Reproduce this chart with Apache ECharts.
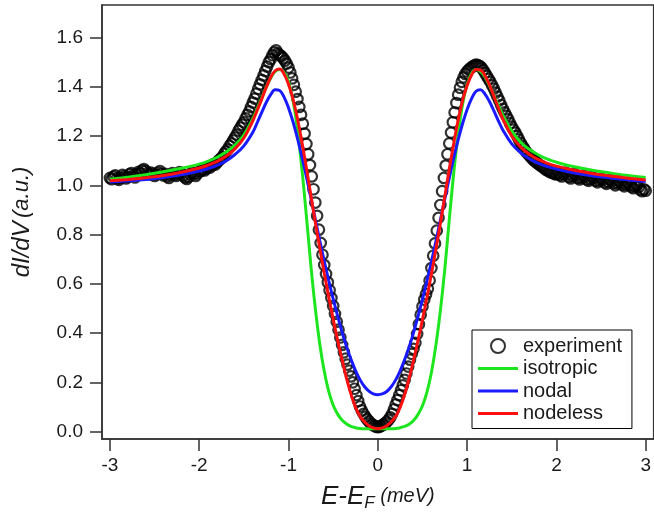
<!DOCTYPE html>
<html>
<head>
<meta charset="utf-8">
<script src="https://cdn.jsdelivr.net/npm/echarts@6.0.0/dist/echarts.min.js"></script>
<style>
html,body{margin:0;padding:0;background:#fff;}
#chart{width:654px;height:517px;}
</style>
</head>
<body>
<div id="chart"></div>
<script>
// ---- data ----
const xTicks = [-3, -2, -1, 0, 1, 2, 3];
const yTicks = [0, 0.2, 0.4, 0.6, 0.8, 1.0, 1.2, 1.4, 1.6];
const seriesNames = ['experiment', 'isotropic', 'nodal', 'nodeless'];

const expE = [
-3,-2.98,-2.96,-2.94,-2.92,-2.9,-2.88,-2.86,-2.84,-2.82,
-2.8,-2.78,-2.76,-2.74,-2.72,-2.7,-2.68,-2.66,-2.64,-2.62,
-2.6,-2.58,-2.56,-2.54,-2.52,-2.5,-2.48,-2.46,-2.44,-2.42,
-2.4,-2.38,-2.36,-2.34,-2.32,-2.3,-2.28,-2.26,-2.24,-2.22,
-2.2,-2.18,-2.16,-2.14,-2.12,-2.1,-2.08,-2.06,-2.04,-2.02,
-2,-1.98,-1.96,-1.94,-1.92,-1.9,-1.88,-1.86,-1.84,-1.82,
-1.8,-1.78,-1.76,-1.74,-1.72,-1.7,-1.68,-1.66,-1.64,-1.62,
-1.6,-1.58,-1.56,-1.54,-1.52,-1.5,-1.48,-1.46,-1.44,-1.42,
-1.4,-1.38,-1.36,-1.34,-1.32,-1.3,-1.28,-1.26,-1.24,-1.22,
-1.2,-1.18,-1.16,-1.14,-1.12,-1.1,-1.08,-1.06,-1.04,-1.02,
-1,-0.98,-0.96,-0.94,-0.92,-0.9,-0.88,-0.86,-0.84,-0.82,
-0.8,-0.78,-0.76,-0.74,-0.72,-0.7,-0.68,-0.66,-0.64,-0.62,
-0.6,-0.58,-0.56,-0.54,-0.52,-0.5,-0.48,-0.46,-0.44,-0.42,
-0.4,-0.38,-0.36,-0.34,-0.32,-0.3,-0.28,-0.26,-0.24,-0.22,
-0.2,-0.18,-0.16,-0.14,-0.12,-0.1,-0.08,-0.06,-0.04,-0.02,
0,0.02,0.04,0.06,0.08,0.1,0.12,0.14,0.16,0.18,
0.2,0.22,0.24,0.26,0.28,0.3,0.32,0.34,0.36,0.38,
0.4,0.42,0.44,0.46,0.48,0.5,0.52,0.54,0.56,0.58,
0.6,0.62,0.64,0.66,0.68,0.7,0.72,0.74,0.76,0.78,
0.8,0.82,0.84,0.86,0.88,0.9,0.92,0.94,0.96,0.98,
1,1.02,1.04,1.06,1.08,1.1,1.12,1.14,1.16,1.18,
1.2,1.22,1.24,1.26,1.28,1.3,1.32,1.34,1.36,1.38,
1.4,1.42,1.44,1.46,1.48,1.5,1.52,1.54,1.56,1.58,
1.6,1.62,1.64,1.66,1.68,1.7,1.72,1.74,1.76,1.78,
1.8,1.82,1.84,1.86,1.88,1.9,1.92,1.94,1.96,1.98,
2,2.02,2.04,2.06,2.08,2.1,2.12,2.14,2.16,2.18,
2.2,2.22,2.24,2.26,2.28,2.3,2.32,2.34,2.36,2.38,
2.4,2.42,2.44,2.46,2.48,2.5,2.52,2.54,2.56,2.58,
2.6,2.62,2.64,2.66,2.68,2.7,2.72,2.74,2.76,2.78,
2.8,2.82,2.84,2.86,2.88,2.9,2.92,2.94,2.96,2.98,
3
];
const expDIdV = [
1.030,1.025,1.035,1.040,1.028,1.022,1.030,1.042,1.036,1.028,
1.034,1.045,1.050,1.040,1.032,1.045,1.055,1.048,1.060,1.066,
1.058,1.050,1.044,1.052,1.046,1.038,1.044,1.052,1.058,1.048,
1.040,1.046,1.036,1.030,1.042,1.050,1.044,1.038,1.046,1.054,
1.048,1.040,1.032,1.026,1.034,1.044,1.052,1.046,1.038,1.048,
1.056,1.058,1.064,1.060,1.068,1.074,1.072,1.080,1.086,1.084,
1.094,1.102,1.108,1.116,1.128,1.138,1.146,1.160,1.170,1.182,
1.194,1.206,1.222,1.234,1.246,1.256,1.272,1.286,1.300,1.318,
1.336,1.352,1.372,1.392,1.410,1.428,1.446,1.464,1.482,1.500,
1.512,1.528,1.540,1.548,1.536,1.530,1.524,1.516,1.506,1.494,
1.478,1.458,1.434,1.408,1.380,1.350,1.318,1.286,1.250,1.210,
1.168,1.126,1.082,1.036,0.984,0.930,0.876,0.820,0.766,0.718,
0.676,0.640,0.606,0.574,0.542,0.510,0.478,0.446,0.414,0.382,
0.352,0.322,0.296,0.272,0.248,0.224,0.200,0.174,0.148,0.124,
0.102,0.086,0.072,0.060,0.050,0.042,0.034,0.028,0.024,0.020,
0.018,0.020,0.024,0.028,0.034,0.040,0.048,0.058,0.072,0.090,
0.110,0.128,0.148,0.168,0.188,0.210,0.236,0.264,0.292,0.316,
0.336,0.360,0.396,0.436,0.474,0.508,0.536,0.558,0.580,0.614,
0.664,0.714,0.764,0.816,0.868,0.920,0.976,1.030,1.080,1.126,
1.170,1.214,1.256,1.296,1.334,1.368,1.396,1.420,1.438,1.452,
1.462,1.470,1.476,1.482,1.486,1.490,1.488,1.484,1.478,1.468,
1.456,1.444,1.432,1.420,1.406,1.392,1.376,1.360,1.344,1.326,
1.310,1.296,1.282,1.268,1.252,1.238,1.226,1.214,1.200,1.186,
1.172,1.160,1.148,1.136,1.128,1.120,1.112,1.104,1.098,1.092,
1.086,1.080,1.076,1.070,1.064,1.060,1.056,1.052,1.050,1.046,
1.044,1.050,1.042,1.036,1.046,1.052,1.044,1.034,1.028,1.038,
1.046,1.040,1.030,1.024,1.032,1.040,1.034,1.024,1.018,1.026,
1.034,1.028,1.018,1.012,1.020,1.028,1.022,1.012,1.006,1.014,
1.022,1.016,1.008,1.000,1.008,1.016,1.010,1.002,0.996,1.004,
1.010,1.002,0.994,0.988,0.996,1.002,0.992,0.982,0.976,0.984,
0.978
];

const fitE = [
-3,-2.8,-2.6,-2.4,-2.2,-2,-1.9,-1.8,-1.7,-1.6,
-1.5,-1.4,-1.35,-1.3,-1.25,-1.2,-1.15,-1.1,-1.05,-1,
-0.95,-0.9,-0.85,-0.8,-0.75,-0.7,-0.65,-0.6,-0.55,-0.5,
-0.45,-0.4,-0.35,-0.3,-0.25,-0.2,-0.15,-0.1,-0.05,
0,
0.05,0.1,0.15,0.2,0.25,0.3,0.35,0.4,0.45,0.5,
0.55,0.6,0.65,0.7,0.75,0.8,0.85,0.9,0.95,
1,1.05,1.1,1.15,1.2,1.25,1.3,1.35,1.4,
1.5,1.6,1.7,1.8,1.9,2,2.2,2.4,2.6,2.8,3
];
const isotropicY = [
1.025,1.033,1.043,1.055,1.069,1.086,1.098,1.114,1.135,1.163,
1.205,1.270,1.312,1.355,1.398,1.435,1.462,1.470,1.458,1.420,
1.345,1.225,1.065,0.875,0.675,0.500,0.355,0.245,0.163,0.107,
0.071,0.046,0.031,0.021,0.016,0.013,0.012,0.012,0.012,
0.012,
0.012,0.012,0.012,0.013,0.016,0.021,0.030,0.045,0.070,0.105,
0.160,0.240,0.350,0.490,0.660,0.860,1.050,1.210,1.330,
1.410,1.455,1.470,1.462,1.440,1.405,1.365,1.325,1.285,
1.220,1.175,1.145,1.123,1.106,1.094,1.075,1.061,1.050,1.040,1.032
];
const nodalY = [
1.013,1.018,1.024,1.032,1.043,1.058,1.068,1.081,1.099,1.125,
1.160,1.215,1.255,1.296,1.336,1.368,1.388,1.385,1.358,1.314,
1.258,1.190,1.115,1.035,0.950,0.862,0.775,0.692,0.613,0.539,
0.469,0.403,0.344,0.293,0.248,0.211,0.183,0.164,0.153,
0.150,
0.153,0.163,0.182,0.210,0.247,0.292,0.343,0.402,0.468,0.538,
0.612,0.690,0.772,0.858,0.945,1.030,1.110,1.185,1.252,
1.308,1.352,1.382,1.388,1.370,1.340,1.302,1.262,1.225,
1.168,1.132,1.107,1.089,1.076,1.066,1.050,1.039,1.030,1.022,1.015
];
const nodelessY = [
1.018,1.024,1.031,1.040,1.053,1.070,1.082,1.097,1.118,1.148,
1.192,1.262,1.305,1.350,1.397,1.438,1.465,1.472,1.452,1.410,
1.350,1.270,1.175,1.070,0.960,0.850,0.745,0.643,0.547,0.457,
0.371,0.291,0.216,0.151,0.099,0.063,0.040,0.024,0.015,
0.012,
0.015,0.024,0.040,0.062,0.098,0.150,0.215,0.290,0.370,0.455,
0.545,0.640,0.740,0.845,0.955,1.065,1.170,1.265,1.345,
1.405,1.448,1.470,1.468,1.445,1.408,1.362,1.315,1.270,
1.200,1.155,1.125,1.104,1.089,1.078,1.061,1.048,1.038,1.029,1.022
];

// ---- chart ----
const pairs = (xs, ys) => xs.map((x, i) => [x, ys[i]]);
const FONT = '"Liberation Sans", Arial, sans-serif';
const TXT = '#1a1a1a';
const AX = '#333';
const LINE_ICON = 'path://M0,0H40V3H0Z';

const chart = echarts.init(document.getElementById('chart'), null, {renderer: 'canvas'});

const lineSeries = (name, ys, color) => ({
  name, type: 'line', data: pairs(fitE, ys), smooth: 0.4,
  symbol: 'none', showSymbol: false,
  lineStyle: {color, width: 3}, itemStyle: {color},
  emphasis: {disabled: true}, silent: true, z: 3
});

chart.setOption({
  animation: false,
  backgroundColor: '#fff',
  textStyle: {fontFamily: FONT},
  grid: {left: 102, top: 5, width: 556, height: 436, show: true,
         borderColor: AX, borderWidth: 1.5, backgroundColor: 'transparent'},
  xAxis: {
    type: 'value', min: -3.089, max: 3.089,
    axisLine: {show: true, onZero: false, lineStyle: {color: AX, width: 1.5}},
    axisTick: {show: true, inside: false, length: 12, customValues: xTicks,
               lineStyle: {color: AX, width: 1.5}},
    axisLabel: {customValues: xTicks, margin: 17, fontSize: 19, color: TXT,
                fontFamily: FONT, formatter: v => String(v)},
    splitLine: {show: false},
    name: '{e|E-E}{s|F}{m| (meV)}',
    nameLocation: 'middle', nameGap: 42,
    nameTextStyle: {
      rich: {
        e: {fontSize: 26, fontStyle: 'italic', color: TXT, fontFamily: FONT},
        s: {fontSize: 17, fontStyle: 'italic', color: TXT, fontFamily: FONT, padding: [14, 0, 0, 0]},
        m: {fontSize: 20, fontStyle: 'italic', color: TXT, fontFamily: FONT}
      }
    }
  },
  yAxis: {
    type: 'value', min: -0.03, max: 1.732,
    axisLine: {show: true, onZero: false, lineStyle: {color: AX, width: 1.5}},
    axisTick: {show: true, inside: false, length: 12, customValues: yTicks,
               lineStyle: {color: AX, width: 1.5}},
    axisLabel: {customValues: yTicks, margin: 19, fontSize: 19, color: TXT,
                fontFamily: FONT, formatter: v => Number(v).toFixed(1)},
    splitLine: {show: false},
    name: '{a|dI/dV} {b|(a.u.)}',
    nameLocation: 'middle', nameGap: 68,
    nameTextStyle: {
      rich: {
        a: {fontSize: 24, fontStyle: 'italic', color: TXT, fontFamily: FONT},
        b: {fontSize: 22, fontStyle: 'italic', color: TXT, fontFamily: FONT}
      }
    }
  },
  legend: {
    data: [
      {name: 'experiment'},
      {name: 'isotropic', icon: LINE_ICON},
      {name: 'nodal', icon: LINE_ICON},
      {name: 'nodeless', icon: LINE_ICON}
    ],
    orient: 'vertical', left: 472, top: 330,
    backgroundColor: '#fff', borderColor: '#000', borderWidth: 1,
    padding: [6, 10, 5, 6], itemGap: 2.5, itemWidth: 40, itemHeight: 14,
    selectedMode: false,
    textStyle: {fontSize: 20, color: TXT, fontFamily: FONT}
  },
  series: [
    {
      name: seriesNames[0], type: 'scatter', data: pairs(expE, expDIdV),
      symbol: 'circle', symbolSize: 10.5,
      itemStyle: {color: 'rgba(0,0,0,0)', borderColor: '#000', borderWidth: 2.2},
      emphasis: {disabled: true}, silent: true, z: 2
    },
    lineSeries(seriesNames[1], isotropicY, '#1ee61e'),
    lineSeries(seriesNames[2], nodalY, '#1a1aff'),
    lineSeries(seriesNames[3], nodelessY, '#ff1010')
  ]
});
</script>
</body>
</html>
